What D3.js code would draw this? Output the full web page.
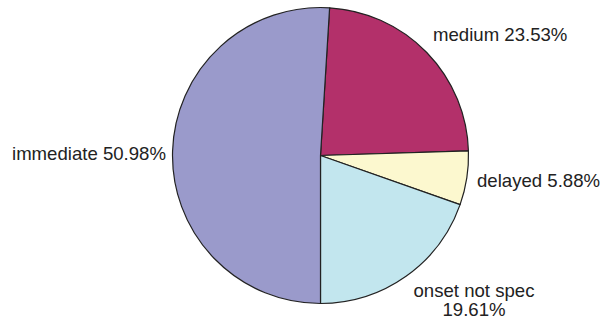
<!doctype html>
<html>
<head>
<style>
  body { margin: 0; background: #fff; }
</style>
</head>
<body>
<svg width="602" height="323" font-family="'Liberation Sans', Arial, sans-serif" font-size="18.6"></svg>
<script src="https://cdn.jsdelivr.net/npm/d3@7"></script>
<script>
  // slices, clockwise from just right of 12 o'clock
  let categories = ["medium", "delayed", "onset not spec", "immediate"];
  let values = [23.53, 5.88, 19.61, 50.98];
  let colors = ["#b3306a", "#fcf8cf", "#c2e6ee", "#9a9acb"];

  let svg = d3.select("svg");
  let cx = 320.5, cy = 155.5, r = 148;

  let total = d3.sum(values);
  // onset slice ends straight down, so start where that works out
  let start = Math.PI - 2 * Math.PI * d3.sum(values.slice(0, 3)) / total;

  let pie = d3.pie()
    .sort(null)
    .value(d => d)
    .startAngle(start)
    .endAngle(start + 2 * Math.PI);

  let arc = d3.arc().innerRadius(0).outerRadius(r);

  let g = svg.append("g").attr("transform", `translate(${cx},${cy})`);

  g.selectAll("path")
    .data(pie(values))
    .enter().append("path")
    .attr("d", arc)
    .attr("fill", (d, i) => colors[i])
    .attr("stroke", "#222")
    .attr("stroke-width", 1.2)
    .attr("stroke-linejoin", "round");

  // labels, placed by hand near each slice
  let labels = [
    { lines: ["medium 23.53%"], x: 433, y: 41, anchor: "start" },
    { lines: ["delayed 5.88%"], x: 477, y: 187, anchor: "start" },
    { lines: ["onset not spec", "19.61%"], x: 474, y: 297, anchor: "middle" },
    { lines: ["immediate 50.98%"], x: 166, y: 160, anchor: "end" }
  ];

  labels.forEach(l => {
    let t = svg.append("text")
      .attr("x", l.x)
      .attr("y", l.y)
      .attr("text-anchor", l.anchor)
      .attr("fill", "#222");
    l.lines.forEach((s, i) => {
      t.append("tspan").attr("x", l.x).attr("dy", i ? 19 : 0).text(s);
    });
  });
</script>
</body>
</html>
